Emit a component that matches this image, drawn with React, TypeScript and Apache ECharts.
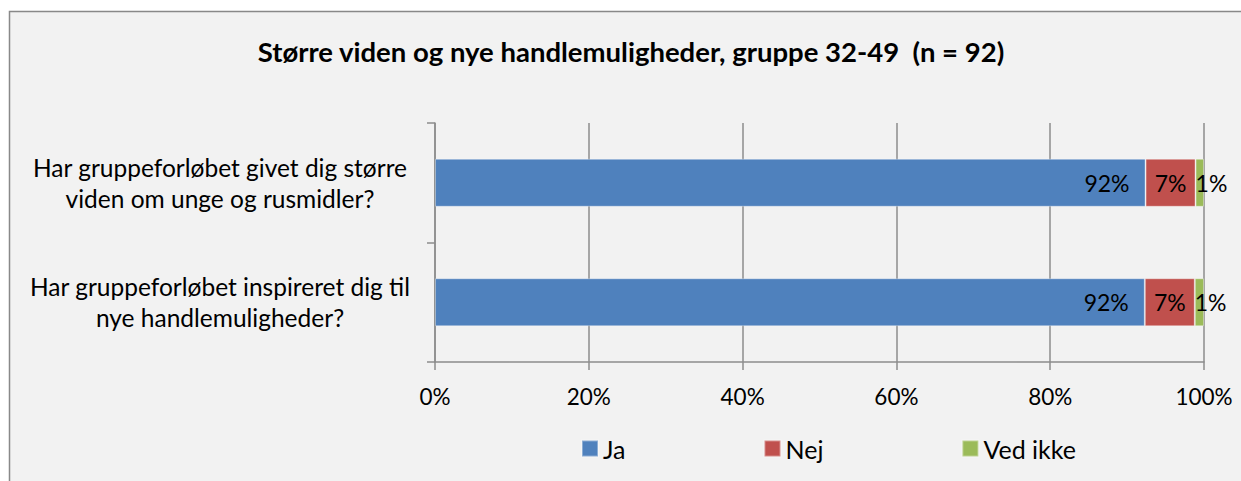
import React, { useEffect, useRef } from "react";
import * as echarts from "echarts";

const titleText = "Større viden og nye handlemuligheder, gruppe 32-49  (n = 92)";
const categories = [
  "Har gruppeforløbet givet dig større\nviden om unge og rusmidler?",
  "Har gruppeforløbet inspireret dig til\nnye handlemuligheder?",
];
const seriesNames = ["Ja", "Nej", "Ved ikke"];
const jaValues = [92.4, 92.3];
const nejValues = [6.5, 6.5];
const vedIkkeValues = [1.1, 1.2];
const colors = ["#4F81BD", "#C0504D", "#9BBB59"];
const xTicks = [0, 20, 40, 60, 80, 100];

const FONT = "Lato, 'Open Sans', sans-serif";
const GRAY = "#8c8c8c";

export default function App() {
  const ref = useRef<HTMLDivElement>(null);
  useEffect(() => {
    if (!ref.current) return;
    const chart = echarts.init(ref.current, undefined, { renderer: "svg" });
    const fmt = (p: any) => Math.round(p.value) + "%";
    const labelBase = { show: true, color: "#000", fontFamily: FONT, fontSize: 23, formatter: fmt };
    const values = [jaValues, nejValues, vedIkkeValues];
    const labelPos: any[] = [
      { position: "insideRight", distance: 16 },
      { position: "inside" },
      { position: "insideLeft", distance: 0 },
    ];
    chart.setOption({
      animation: false,
      backgroundColor: "#ffffff",
      textStyle: { fontFamily: FONT },
      graphic: [
        {
          type: "rect",
          shape: { x: 9.5, y: 11.5, width: 1400, height: 600 },
          style: { fill: "#f2f2f2", stroke: "#898989", lineWidth: 1.5 },
          z: -10,
        },
      ],
      title: {
        text: titleText,
        left: 626,
        textAlign: "center",
        top: 32,
        textStyle: { fontFamily: FONT, fontSize: 27.5, fontWeight: "bold", color: "#000" },
      },
      legend: {
        data: seriesNames,
        left: 576,
        top: 431,
        itemWidth: 16,
        itemHeight: 16,
        itemGap: 138,
        icon: "rect",
        textStyle: { fontFamily: FONT, fontSize: 25, color: "#000" },
      },
      grid: { left: 435, right: 37, top: 123, bottom: 119 },
      xAxis: {
        type: "value",
        min: 0,
        max: 100,
        interval: 20,
        axisLine: { show: true, lineStyle: { color: GRAY, width: 1.5 } },
        axisTick: { show: true, length: 8, lineStyle: { color: GRAY, width: 1.5 } },
        splitLine: { show: true, lineStyle: { color: GRAY, width: 1.5 } },
        axisLabel: {
          margin: 23,
          fontFamily: FONT,
          fontSize: 22.5,
          color: "#000",
          formatter: (v: number) => (xTicks.includes(v) ? v + "%" : ""),
        },
      },
      yAxis: {
        type: "category",
        data: categories,
        inverse: true,
        axisLine: { show: true, lineStyle: { color: GRAY, width: 1.5 } },
        axisTick: { show: true, length: 8, lineStyle: { color: GRAY, width: 1.5 } },
        axisLabel: {
          align: "center",
          margin: 215,
          fontFamily: FONT,
          fontSize: 24.5,
          lineHeight: 31,
          color: "#000",
        },
      },
      series: seriesNames.map((name, i) => ({
        name,
        type: "bar",
        stack: "total",
        barWidth: 48,
        data: values[i],
        itemStyle: { color: colors[i], borderColor: "rgba(255,255,255,0.35)", borderWidth: 1 },
        label: { ...labelBase, ...labelPos[i] },
      })),
    });
    return () => chart.dispose();
  }, []);
  return (
    <div
      ref={ref}
      style={{ position: "fixed", left: 0, top: 0, width: 1241, height: 481 }}
    />
  );
}
